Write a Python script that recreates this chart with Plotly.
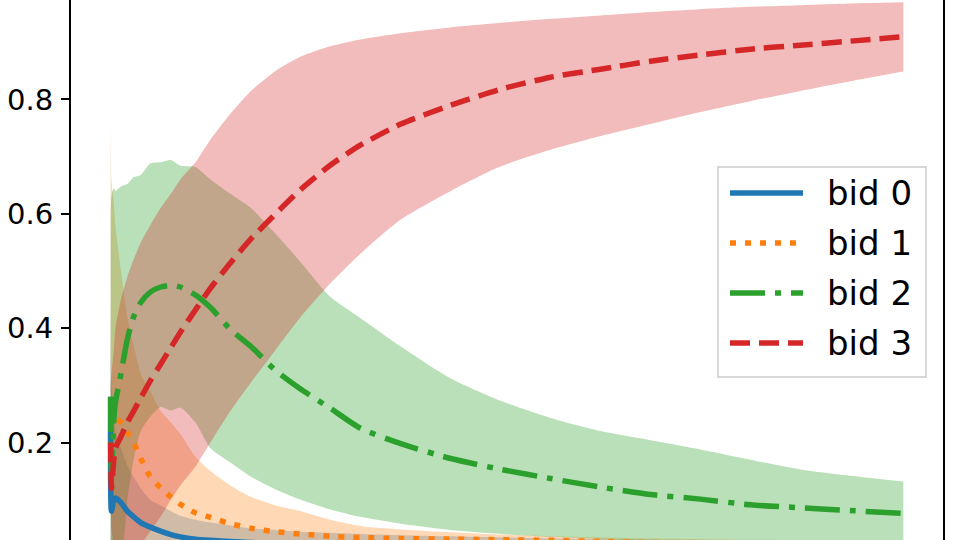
import plotly.graph_objects as go

# step index of each sample (x)
steps = [0, 1, 4, 6, 13, 21, 29, 38, 50, 63, 76, 88, 107, 126, 151, 177,
         208, 240, 277, 315, 366, 429, 492, 555, 618, 681, 744, 807, 870, 933, 1000]

# bid 0: mean and band
bid0_mean = [0.28, 0.08, 0.10, 0.103, 0.095, 0.08, 0.07, 0.06, 0.052, 0.045,
             0.039, 0.035, 0.031, 0.029, 0.027, 0.025, 0.024, 0.023, 0.022, 0.021,
             0.020, 0.019, 0.018, 0.018, 0.017, 0.017, 0.016, 0.016, 0.015, 0.015, 0.015]
bid0_lo = [0.0, 0.0, 0.0, 0.0, 0.0, 0.0, 0.0, 0.0, 0.0, 0.0,
           0.0, 0.0, 0.0, 0.0, 0.0, 0.0, 0.0, 0.0, 0.0, 0.0,
           0.0, 0.0, 0.0, 0.0, 0.0, 0.0, 0.0, 0.0, 0.0, 0.0, 0.0]
bid0_hi = [0.5, 0.3, 0.25, 0.22, 0.19, 0.16, 0.14, 0.12, 0.10, 0.09,
           0.08, 0.072, 0.065, 0.06, 0.055, 0.05, 0.047, 0.044, 0.042, 0.04,
           0.038, 0.036, 0.034, 0.032, 0.031, 0.03, 0.029, 0.028, 0.027, 0.026, 0.025]

# bid 1
bid1_mean = [0.24, 0.25, 0.25, 0.245, 0.235, 0.218, 0.20, 0.172, 0.14, 0.121,
             0.105, 0.092, 0.077, 0.069, 0.058, 0.05, 0.044, 0.04, 0.036, 0.034,
             0.032, 0.031, 0.030, 0.029, 0.027, 0.025, 0.024, 0.022, 0.021, 0.020, 0.019]
bid1_lo = [0.0, 0.0, 0.0, 0.0, 0.0, 0.0, 0.0, 0.0, 0.0, 0.0,
           0.0, 0.0, 0.0, 0.0, 0.0, 0.0, 0.0, 0.0, 0.0, 0.0,
           0.0, 0.0, 0.0, 0.0, 0.0, 0.0, 0.0, 0.0, 0.0, 0.0, 0.0]
bid1_hi = [1.0, 0.66, 0.62, 0.58, 0.5, 0.42, 0.37, 0.32, 0.29, 0.255,
           0.235, 0.215, 0.175, 0.15, 0.125, 0.105, 0.09, 0.08, 0.065, 0.054,
           0.048, 0.043, 0.039, 0.036, 0.034, 0.032, 0.031, 0.03, 0.029, 0.028, 0.027]

# bid 2
bid2_mean = [0.28, 0.15, 0.24, 0.27, 0.32, 0.38, 0.42, 0.445, 0.463, 0.472,
             0.475, 0.472, 0.458, 0.436, 0.398, 0.368, 0.326, 0.293, 0.26, 0.225,
             0.198, 0.172, 0.153, 0.137, 0.122, 0.109, 0.101, 0.091, 0.086, 0.081, 0.076]
bid2_lo = [0.0, 0.0, 0.0, 0.0, 0.0, 0.1, 0.17, 0.22, 0.245, 0.262,
           0.256, 0.261, 0.235, 0.19, 0.165, 0.14, 0.118, 0.1, 0.083, 0.07,
           0.058, 0.047, 0.04, 0.035, 0.031, 0.028, 0.025, 0.023, 0.021, 0.02, 0.02]
bid2_hi = [0.55, 0.63, 0.645, 0.64, 0.648, 0.652, 0.664, 0.668, 0.688, 0.69,
           0.694, 0.684, 0.682, 0.66, 0.635, 0.61, 0.565, 0.515, 0.455, 0.418,
           0.368, 0.312, 0.273, 0.243, 0.22, 0.204, 0.188, 0.17, 0.153, 0.142, 0.132]

# bid 3
bid3_mean = [0.2, 0.12, 0.17, 0.19, 0.21, 0.235, 0.255, 0.278, 0.308, 0.337,
             0.366, 0.393, 0.432, 0.47, 0.514, 0.556, 0.6, 0.643, 0.685, 0.72,
             0.757, 0.79, 0.818, 0.839, 0.853, 0.867, 0.878, 0.888, 0.895, 0.902, 0.91]
bid3_lo = [0.1, 0.05, 0.02, 0.0, 0.0, 0.0, 0.0, 0.02, 0.045, 0.07,
           0.1, 0.125, 0.158, 0.2, 0.255, 0.305, 0.362, 0.42, 0.478, 0.53,
           0.59, 0.64, 0.683, 0.712, 0.736, 0.757, 0.778, 0.797, 0.815, 0.832, 0.849]
bid3_hi = [0.3, 0.32, 0.36, 0.4, 0.45, 0.49, 0.52, 0.55, 0.58, 0.61,
           0.635, 0.66, 0.69, 0.73, 0.775, 0.815, 0.85, 0.875, 0.893, 0.905,
           0.916, 0.926, 0.934, 0.941, 0.947, 0.953, 0.958, 0.962, 0.965, 0.968, 0.97]

names = ['bid 0', 'bid 1', 'bid 2', 'bid 3']
means = [bid0_mean, bid1_mean, bid2_mean, bid3_mean]
lows = [bid0_lo, bid1_lo, bid2_lo, bid3_lo]
highs = [bid0_hi, bid1_hi, bid2_hi, bid3_hi]

colors = ['#1f77b4', '#ff7f0e', '#2ca02c', '#d62728']
fills = ['rgba(31,119,180,0.3)', 'rgba(255,127,14,0.3)',
         'rgba(44,160,44,0.33)', 'rgba(214,39,40,0.31)']
dashes = ['solid', '6px,9px', '35px,10px,6px,10px', '20px,9px']
LW = 5.5

fig = go.Figure()

# shaded bands first (matplotlib draws fills below lines)
for lo, hi, fc in zip(lows, highs, fills):
    fig.add_trace(go.Scatter(x=steps, y=lo, mode='lines',
                             line=dict(width=0, shape='spline', smoothing=0.6),
                             hoverinfo='skip', showlegend=False))
    fig.add_trace(go.Scatter(x=steps, y=hi, mode='lines',
                             line=dict(width=0, shape='spline', smoothing=0.6),
                             fill='tonexty', fillcolor=fc,
                             hoverinfo='skip', showlegend=False))

# mean lines
for name, m, c, d in zip(names, means, colors, dashes):
    fig.add_trace(go.Scatter(x=steps, y=m, mode='lines', name=name,
                             line=dict(color=c, width=LW, dash=d,
                                       shape='spline', smoothing=0.6),
                             showlegend=False))

W, H = 960, 540
L, R = 71, 17
PW = W - L - R


def px(x):
    return (x - L) / PW


def py(y):
    return 1 - y / H


# hand-made legend box to get matplotlib-like long line samples
shapes = [dict(type='rect', xref='paper', yref='paper',
               x0=px(718), x1=px(926), y0=py(377), y1=py(167),
               fillcolor='rgba(255,255,255,0.8)',
               line=dict(color='#cccccc', width=1.5))]
annotations = []
for i, (name, c, d) in enumerate(zip(names, colors, dashes)):
    yy = 193 + 50 * i
    shapes.append(dict(type='line', xref='paper', yref='paper',
                       x0=px(730), x1=px(803), y0=py(yy), y1=py(yy),
                       line=dict(color=c, width=LW, dash=d)))
    annotations.append(dict(text=name, xref='paper', yref='paper',
                            x=px(825), y=py(yy), xanchor='left', yanchor='middle',
                            showarrow=False,
                            font=dict(family='DejaVu Sans', size=34, color='black')))

fig.update_layout(
    width=W, height=H,
    margin=dict(l=L, r=R, t=0, b=0, autoexpand=False),
    plot_bgcolor='white', paper_bgcolor='white',
    showlegend=False,
    shapes=shapes,
    annotations=annotations,
    font=dict(family='DejaVu Sans', color='black'),
)

fig.update_xaxes(range=[-50, 1050], showticklabels=False, showgrid=False,
                 zeroline=False, showline=False, ticks='')
fig.update_yaxes(range=[0.0295, 0.974], tickvals=[0.2, 0.4, 0.6, 0.8],
                 ticktext=['0.2', '0.4', '0.6', '0.8'],
                 ticks='outside', ticklen=8, tickwidth=2, tickcolor='black',
                 ticklabelstandoff=2, automargin=False,
                 tickfont=dict(family='DejaVu Sans', size=29, color='black'),
                 showline=True, linecolor='black', linewidth=2, mirror=True,
                 showgrid=False, zeroline=False)

# page body has a default 8px margin; drop it so the figure fills the window
fig.write_html("out.html", config={'displayModeBar': False},
               post_script="document.body.style.margin='0';")
